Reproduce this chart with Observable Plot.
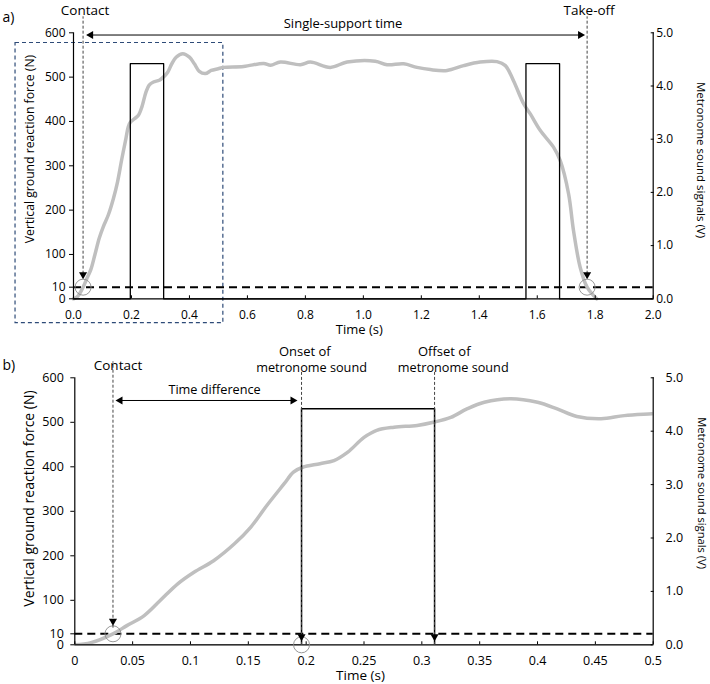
<!DOCTYPE html>
<html>
<head>
<meta charset="utf-8">
<script src="https://cdn.jsdelivr.net/npm/d3@7"></script>
<script src="https://cdn.jsdelivr.net/npm/@observablehq/plot@0.6"></script>
<style>
  body { margin: 0; background: #fff; }
  #chart svg { display: block; }
</style>
</head>
<body>
<div id="chart"></div>
<script>
// Vertical ground reaction force over one stance phase (time in s, force in N)
const forceTime = [0, 0.014, 0.033, 0.045, 0.060, 0.074, 0.089, 0.103, 0.120, 0.138,
  0.152, 0.166, 0.181, 0.189, 0.197, 0.212, 0.224, 0.236, 0.250, 0.261,
  0.276, 0.296, 0.310, 0.325, 0.339, 0.354, 0.377, 0.400, 0.417, 0.434,
  0.455, 0.475, 0.499, 0.518, 0.587, 0.656, 0.680, 0.714, 0.783, 0.817,
  0.886, 0.944, 1.041, 1.082, 1.139, 1.185, 1.231, 1.289, 1.346, 1.403,
  1.461, 1.490, 1.518, 1.553, 1.576, 1.610, 1.656, 1.679, 1.708, 1.725,
  1.748, 1.772, 1.805];
const forceN = [0, 2, 10, 32, 59, 100, 137, 163, 189, 227,
  264, 313, 362, 388, 399, 407, 414, 433, 466, 482,
  489, 493, 500, 511, 530, 545, 553, 545, 530, 513,
  508, 515, 519, 522, 524, 531, 527, 534, 528, 534,
  522, 534, 536, 528, 530, 522, 517, 515, 526, 534,
  535, 526, 492, 440, 417, 380, 342, 312, 237, 154,
  65, 10, 0];

// Metronome sound output (time in s, signal in V)
const soundTime = [0, 0.196, 0.196, 0.311, 0.311, 1.561, 1.561, 1.677, 1.677, 2.0];
const soundV = [0, 0, 4.42, 4.42, 0, 0, 4.42, 4.42, 0, 0];

// Events (s) and the force threshold (N)
const contactTime = 0.033;
const onsetTime = 0.196;
const offsetTime = 0.311;
const takeoffTime = 1.772;
const thresholdN = 10;

// Axis ticks
const forceTicks = [0, 10, 100, 200, 300, 400, 500, 600];
const voltTicks = [0, 1, 2, 3, 4, 5];
const timeTicksA = [0, 0.2, 0.4, 0.6, 0.8, 1.0, 1.2, 1.4, 1.6, 1.8, 2.0];
const timeTicksB = [0, 0.05, 0.1, 0.15, 0.2, 0.25, 0.3, 0.35, 0.4, 0.45, 0.5];

// Region of panel a that is enlarged in panel b (s, N)
const zoomWindowT = [-0.2, 0.517];
const zoomWindowTop = 577;

const force = forceTime.map((t, i) => ({t, f: forceN[i]}));
const sound = soundTime.map((t, i) => ({t, v: soundV[i]}));

const K = 600 / 5; // newtons per volt on the shared vertical scale
const font = "'Open Sans', sans-serif";
const W = 710;

// Force axis: linear from 100 to 600 N (and through 0), with the 0–100 N band
// bent so the 10 N threshold sits a little clear of the baseline.
function forceWarp(lift) {
  return d3.scaleLinear().domain([0, 10, 100, 600]).range([0, lift, 100, 600]);
}

const mid = {textAnchor: "middle", lineAnchor: "middle"};
const headOpts = {symbol: "triangle", r: 3, fill: "black", stroke: "none"};
const annoLine = {stroke: "#444", strokeWidth: 1, strokeDasharray: "3,2"};
const circleOpts = {r: 8, fill: "none", stroke: "#8c8c8c", strokeWidth: 0.9};

// ---------- panel a: whole stance ----------
const A = {height: 340, top: 32.3, bottom: 298.3, left: 73, right: 652.7};
const plotA = Plot.plot({
  width: W, height: A.height,
  marginTop: A.top, marginBottom: A.height - A.bottom,
  marginLeft: A.left, marginRight: W - A.right,
  style: {fontFamily: font, fontSize: "12px", background: "white", color: "black"},
  x: {domain: [0, 2]},
  y: {domain: [0, 600], transform: forceWarp(26.2)},
  marks: [
    Plot.rect([0], {x1: zoomWindowT[0], x2: zoomWindowT[1], y1: 0, y2: zoomWindowTop,
      insetBottom: -24.4, fill: "none", stroke: "#2e4b78", strokeWidth: 1.2, strokeDasharray: "4,3"}),
    Plot.ruleY([thresholdN], {stroke: "black", strokeWidth: 2, strokeDasharray: "8,5"}),
    Plot.line(force, {x: "t", y: "f", stroke: "#bfbfbf", strokeWidth: 3.5, curve: "catmull-rom"}),
    Plot.line(sound, {x: "t", y: d => d.v * K, stroke: "black", strokeWidth: 1.3}),
    Plot.ruleY([0], {stroke: "black", strokeWidth: 1.3}),
    Plot.ruleX([0, 2], {y1: 0, y2: 600, stroke: "black", strokeWidth: 1.2}),
    Plot.axisY(forceTicks, {anchor: "left", tickSize: 4, tickPadding: 4, fontSize: 12, label: null}),
    Plot.axisY(voltTicks.map(v => v * K), {anchor: "right", tickSize: -3, tickPadding: 6, fontSize: 12,
      tickFormat: d => (d / K).toFixed(1), label: null}),
    Plot.axisX(timeTicksA, {anchor: "bottom", tickSize: -3, tickPadding: 15, fontSize: 12,
      tickFormat: d => d.toFixed(1), label: null}),
    // contact / take-off markers
    Plot.dot([contactTime, takeoffTime], {x: d => d, y: thresholdN, ...circleOpts}),
    Plot.ruleX([contactTime, takeoffTime], {x: d => d, y1: thresholdN, y2: 600,
      insetTop: -13, insetBottom: 16, ...annoLine}),
    Plot.dot([contactTime, takeoffTime], {x: d => d, y: thresholdN, rotate: 180, dy: -12.7, ...headOpts}),
    // single-support time
    Plot.ruleY([595], {x1: contactTime, x2: takeoffTime, insetLeft: 5, insetRight: 5, stroke: "black", strokeWidth: 1}),
    Plot.dot([contactTime], {x: d => d, y: 595, rotate: -90, dx: 3 + 4.7, ...headOpts}),
    Plot.dot([takeoffTime], {x: d => d, y: 595, rotate: 90, dx: -2 - 4.7, ...headOpts}),
    // labels
    Plot.text(["a)"], {text: d => d, frameAnchor: "top-left", textAnchor: "start", lineAnchor: "middle",
      dx: -71, dy: -15, fontSize: 14}),
    Plot.text([contactTime, takeoffTime], {x: d => d, text: ["Contact", "Take-off"],
      frameAnchor: "top", dx: 2, dy: -22.5, fontSize: 13.5, ...mid}),
    Plot.text([(contactTime + takeoffTime) / 2], {x: d => d, text: ["Single-support time"],
      frameAnchor: "top", dx: 8, dy: -9, fontSize: 13, ...mid}),
    Plot.text(["Time (s)"], {text: d => d, frameAnchor: "bottom", dx: -4, dy: 30.7, fontSize: 13, ...mid}),
    Plot.text(["Vertical ground reaction force (N)"], {text: d => d, frameAnchor: "left",
      rotate: -90, dx: -43, dy: -16.8, fontSize: 12.2, ...mid}),
    Plot.text(["Metronome sound signals (V)"], {text: d => d, frameAnchor: "right",
      rotate: 90, dx: 47.3, dy: -5.8, fontSize: 11.5, ...mid})
  ]
});

// ---------- panel b: first 0.5 s ----------
const B = {height: 344, top: 37.3, bottom: 304.3, left: 74.3, right: 652.7};
const plotB = Plot.plot({
  width: W, height: B.height,
  marginTop: B.top, marginBottom: B.height - B.bottom,
  marginLeft: B.left, marginRight: W - B.right,
  style: {fontFamily: font, fontSize: "12px", background: "white", color: "black"},
  x: {domain: [0, 0.5]},
  y: {domain: [0, 600], transform: forceWarp(24.7)},
  marks: [
    Plot.ruleY([thresholdN], {stroke: "black", strokeWidth: 2, strokeDasharray: "8,5"}),
    Plot.line(force, {x: "t", y: "f", stroke: "#bfbfbf", strokeWidth: 3.5, curve: "catmull-rom", clip: true}),
    Plot.line(sound, {x: "t", y: d => d.v * K, stroke: "black", strokeWidth: 1.5, clip: true}),
    Plot.ruleY([0], {stroke: "black", strokeWidth: 1.3}),
    Plot.ruleX([0, 0.5], {y1: 0, y2: 600, stroke: "black", strokeWidth: 1.2}),
    Plot.axisY(forceTicks, {anchor: "left", tickSize: 4, tickPadding: 7, fontSize: 12.5, label: null}),
    Plot.axisY(voltTicks.map(v => v * K), {anchor: "right", tickSize: -3, tickPadding: 15.3, fontSize: 12.5,
      tickFormat: d => (d / K).toFixed(1), label: null}),
    Plot.axisX(timeTicksB, {anchor: "bottom", tickSize: -3, tickPadding: 14.8, fontSize: 12.5,
      tickFormat: d => String(d), label: null}),
    // contact and onset markers
    Plot.dot([{t: contactTime, f: thresholdN}, {t: onsetTime, f: 0}], {x: "t", y: "f", ...circleOpts}),
    Plot.ruleX([contactTime], {x: d => d, y1: thresholdN, y2: 600, insetTop: -5.6, insetBottom: 16, ...annoLine}),
    Plot.dot([contactTime], {x: d => d, y: thresholdN, rotate: 180, dy: -12.7, ...headOpts}),
    Plot.ruleX([onsetTime, offsetTime], {x: d => d, y1: 0, y2: 600, insetTop: 0.6, insetBottom: 7, ...annoLine}),
    Plot.dot([onsetTime, offsetTime], {x: d => d, y: 0, rotate: 180, dy: -8.3, ...headOpts}),
    // time difference
    Plot.ruleY([549], {x1: contactTime, x2: onsetTime, insetLeft: 5, insetRight: 6, stroke: "black", strokeWidth: 1}),
    Plot.dot([contactTime], {x: d => d, y: 549, rotate: -90, dx: 2.5 + 4.7, ...headOpts}),
    Plot.dot([onsetTime], {x: d => d, y: 549, rotate: 90, dx: -4 - 4.7, ...headOpts}),
    // labels
    Plot.text(["b)"], {text: d => d, frameAnchor: "top-left", textAnchor: "start", lineAnchor: "middle",
      dx: -72.3, dy: -12.3, fontSize: 14}),
    Plot.text([contactTime], {x: d => d, text: ["Contact"], frameAnchor: "top", dx: 5, dy: -12.3, fontSize: 13.5, ...mid}),
    Plot.text([onsetTime], {x: d => d, text: ["Onset of"], frameAnchor: "top", dx: 3.3, dy: -26.3, fontSize: 13, ...mid}),
    Plot.text([onsetTime], {x: d => d, text: ["metronome sound"], frameAnchor: "top", dx: 10, dy: -10.3, fontSize: 12.7, ...mid}),
    Plot.text([offsetTime], {x: d => d, text: ["Offset of"], frameAnchor: "top", dx: 9.7, dy: -26.3, fontSize: 13, ...mid}),
    Plot.text([offsetTime], {x: d => d, text: ["metronome sound"], frameAnchor: "top", dx: 18.7, dy: -10.3, fontSize: 12.7, ...mid}),
    Plot.text([(contactTime + onsetTime) / 2], {x: d => d, text: ["Time difference"],
      frameAnchor: "top", dx: 7.3, dy: 11.7, fontSize: 12.7, ...mid}),
    Plot.text(["Time (s)"], {text: d => d, frameAnchor: "bottom", dx: -3.5, dy: 31, fontSize: 13.5, ...mid}),
    Plot.text(["Vertical ground reaction force (N)"], {text: d => d, frameAnchor: "left",
      rotate: -90, dx: -44.8, dy: -12.8, fontSize: 14, ...mid}),
    Plot.text(["Metronome sound signals (V)"], {text: d => d, frameAnchor: "right",
      rotate: 90, dx: 48.3, dy: -18.2, fontSize: 11.2, ...mid})
  ]
});

const chart = document.getElementById("chart");
chart.append(plotA, plotB);
</script>
</body>
</html>
